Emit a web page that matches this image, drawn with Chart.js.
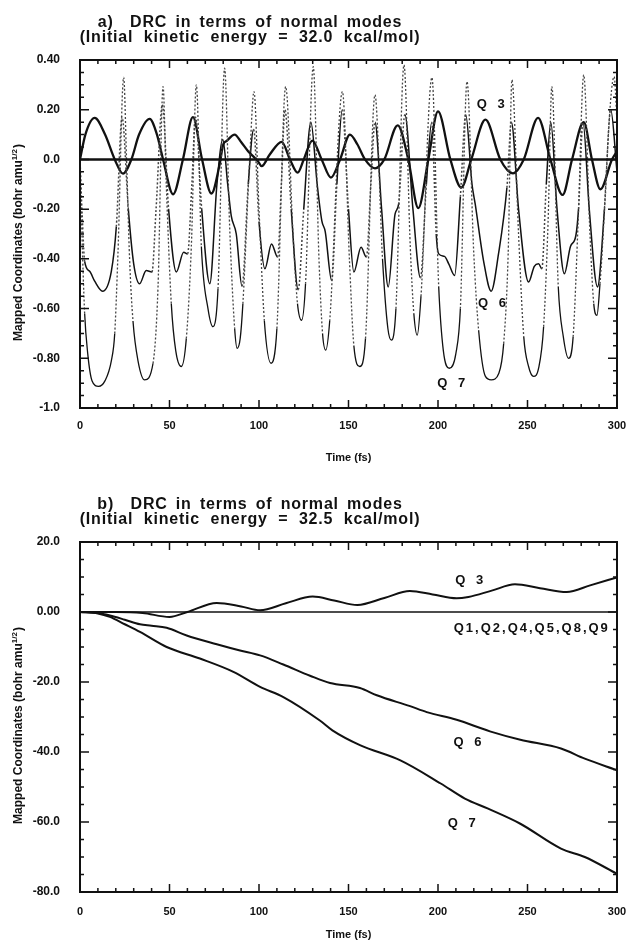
<!DOCTYPE html>
<html>
<head>
<meta charset="utf-8">
<script src="https://cdn.jsdelivr.net/npm/chart.js@4.4.1/dist/chart.umd.min.js"></script>
<style>
  html, body { margin: 0; padding: 0; background: #fff; }
  #page { position: relative; width: 630px; height: 941px; }
  .box { position: absolute; left: 0; width: 630px; }
</style>
</head>
<body>
<div id="page">
  <div class="box" style="top:0;height:470px"><canvas id="chart-a"></canvas></div>
  <div class="box" style="top:470px;height:471px"><canvas id="chart-b"></canvas></div>
</div>
<script>
// ---- data: [time (fs), mapped coordinate] ----
const titleA = ['a)  DRC in terms of normal modes', '(Initial  kinetic  energy  =  32.0  kcal/mol)'];
const titleB = ['b)  DRC in terms of normal modes', '(Initial  kinetic  energy  =  32.5  kcal/mol)'];
const xTickLabels = ['0', '50', '100', '150', '200', '250', '300'];
const yTickLabelsA = ['-1.0', '-0.80', '-0.60', '-0.40', '-0.20', '0.0', '0.20', '0.40'];
const yTickLabelsB = ['-80.0', '-60.0', '-40.0', '-20.0', '0.00', '20.0'];
const xTitle = 'Time (fs)';
const yTitle = ['Mapped Coordinates (bohr amu', '1/2', ')'];

// panel a) 32.0 kcal/mol
const q3A = [[0,0],[3,0.10],[8.2,0.167],[14,0.10],[19.4,0],[24,-0.057],[28.7,0],[33,0.10],[38.9,0.163],[43,0.10],
  [46.4,0],[52,-0.14],[57.5,0],[63.1,0.17],[68.2,0],[73.4,-0.137],[78,-0.02],[80,0.06],[82,0.075],[86.4,0.10],
  [90,0.07],[93.9,0.033],[99.4,-0.007],[101.5,-0.027],[106,0.02],[112.7,0.071],[117.3,0],[121.6,-0.053],[125,0],
  [129.8,0.076],[135,0],[140.2,-0.073],[145.3,0],[150.8,0.10],[155,0.06],[159.2,0],[164.8,-0.036],[170,0],
  [177.5,0.137],[183.4,0],[189,-0.196],[194.6,0],[200,0.193],[206.9,0],[213,-0.113],[218.6,0],[226.5,0.16],
  [234.8,0],[241.9,-0.056],[247.9,0],[255.9,0.167],[262.8,0],[269.6,-0.143],[274.9,0],[281.4,0.15],[286,0],
  [290.7,-0.12],[297.2,0],[300,0.033]];
const q6A = [[0,0],[1.2,-0.22],[2.6,-0.41],[5.4,-0.45],[8.2,-0.49],[12.6,-0.53],[17.5,-0.45],[20.3,-0.27],[23.5,0.17],
  [27,-0.2],[30,-0.42],[33.3,-0.50],[37,-0.447],[40.2,-0.453],[42.5,-0.2],[46,0.22],[49.5,-0.2],[53.8,-0.453],
  [57.9,-0.373],[60.1,-0.38],[62.5,-0.1],[64.5,0.17],[68,-0.2],[72.5,-0.50],[76.5,-0.1],[79.8,0.08],[82.5,-0.1],
  [84.5,-0.227],[87.3,-0.30],[90.5,-0.51],[94,-0.1],[97,0.12],[100,-0.25],[103.3,-0.44],[107,-0.34],[110.4,-0.393],
  [112.5,-0.1],[114.5,0.2],[118,-0.2],[121.9,-0.524],[125,-0.2],[129,0.15],[132.5,-0.1],[135.1,-0.247],[137,-0.29],
  [140.6,-0.487],[143.5,-0.1],[146.5,0.2],[150,-0.2],[153,-0.453],[157,-0.353],[160,-0.393],[162.5,-0.1],[164.8,0.15],
  [168.5,-0.2],[172.2,-0.513],[176,-0.22],[178,-0.18],[181.5,0.18],[186,-0.2],[190.2,-0.476],[193.5,-0.1],[196.5,0.15],
  [199,-0.30],[200.4,-0.38],[203.6,-0.39],[206,-0.42],[209.3,-0.467],[212.5,-0.15],[215.5,0.18],[219,-0.1],
  [220.8,-0.18],[225.5,-0.41],[229.7,-0.53],[233.8,-0.38],[238.5,-0.113],[241,0.15],[245,-0.2],[250.6,-0.493],
  [253.8,-0.43],[256.2,-0.42],[258,-0.44],[260.5,-0.1],[263,0.15],[266.5,-0.2],[270.6,-0.46],[274,-0.35],
  [277,-0.307],[278.5,-0.2],[281,0.15],[284.5,-0.2],[289.1,-0.513],[293,-0.2],[296.5,0.2],[300,-0.05]];
const q7A = [[0,0],[1,-0.28],[2.6,-0.62],[4.3,-0.78],[6.7,-0.89],[10.4,-0.913],[14,-0.89],[17.5,-0.81],[19.4,-0.70],
  [21.2,-0.38],[24.4,0.33],[26,0],[27.7,-0.40],[29.6,-0.65],[32.4,-0.81],[36.1,-0.887],[40.8,-0.82],[43.6,-0.51],
  [46.4,0.293],[48.2,-0.10],[51,-0.58],[53.5,-0.77],[56.6,-0.833],[59.4,-0.72],[62.2,-0.35],[65,0.30],[67.8,-0.35],
  [71.5,-0.6],[74.3,-0.673],[77.1,-0.52],[80.8,0.367],[83.6,-0.27],[86.4,-0.68],[87.8,-0.76],[89.5,-0.72],[91,-0.58],
  [94.8,0],[97.2,0.273],[100,-0.2],[103,-0.65],[106.7,-0.82],[110,-0.68],[114.9,0.293],[119,-0.3],[121.5,-0.58],
  [123.8,-0.647],[126,-0.5],[130.3,0.373],[133.5,-0.4],[135.5,-0.7],[137.3,-0.767],[139.5,-0.65],[146.6,0.273],
  [150.5,-0.4],[153,-0.75],[156.3,-0.833],[159.5,-0.72],[164.8,0.26],[169,-0.4],[172,-0.68],[174,-0.727],
  [176.5,-0.6],[181,0.38],[184.5,-0.35],[186.5,-0.62],[188.4,-0.707],[190.5,-0.55],[196.6,0.33],[200.4,-0.513],
  [203,-0.77],[206.3,-0.84],[210,-0.78],[212.5,-0.6],[216.2,0.313],[220,-0.38],[222.7,-0.687],[226.5,-0.873],
  [229.7,-0.887],[234,-0.86],[236.7,-0.74],[239.2,-0.38],[241.3,0.32],[245,-0.3],[247.9,-0.713],[250.6,-0.833],
  [253.4,-0.873],[256.2,-0.84],[259,-0.673],[261.5,-0.25],[263.6,0.293],[267.2,-0.513],[270,-0.713],[272.9,-0.80],
  [275.5,-0.713],[278.3,-0.247],[281.4,0.34],[284.9,-0.3],[287,-0.58],[288.8,-0.627],[290.5,-0.5],[298.4,0.333],
  [300,0.15]];
const restA = [[0,0],[300,0]];

// panel b) 32.5 kcal/mol
const q3B = [[0,0],[20,0],[35,-0.3],[50,-1.4],[60,0],[76.4,2.6],[90,1.6],[100.6,0.5],[115,2.5],[130,4.4],[142,3.3],
  [155,2.0],[170,4.0],[184.3,6.0],[197,5.0],[210.4,3.9],[217,4.3],[230,6.1],[243,7.9],[257,6.8],[271.9,5.7],
  [285,7.6],[300,9.9]];
const q6B = [[0,0],[10,-0.3],[16.7,-1.0],[25,-2.2],[33.5,-3.5],[40,-3.9],[48.4,-4.5],[59.6,-6.7],[76.4,-9.2],
  [89.4,-11.0],[100.6,-12.4],[113.6,-15.0],[128.5,-18.2],[139.7,-20.3],[156.4,-21.7],[165.8,-23.8],[184.4,-26.9],
  [193.7,-28.6],[210.4,-30.8],[229,-34.1],[246,-36.5],[268.7,-39.0],[282,-41.9],[300,-45.2]];
const q7B = [[0,0],[10,-0.4],[16.7,-1.4],[25,-3.5],[33.5,-5.7],[48.4,-10.0],[67,-13.3],[85.7,-17.1],[100.6,-21.4],
  [113.6,-24.3],[134,-31.0],[141,-33.8],[156.7,-38.1],[179,-42.4],[201.5,-49.0],[215,-53.3],[228,-56.2],
  [246,-60.5],[268.7,-67.6],[282,-70.0],[300,-74.8]];
const restB = [[0,0],[300,0]];

const INK = '#111';
const FONT = "'Liberation Sans', Arial, sans-serif";
const bold = (px) => `bold ${px}px ${FONT}`;
const pts = (arr) => arr.map(([x, y]) => ({ x, y }));

// thin fast-moving traces print as dotted strokes where they are steep
const isSteep = (c) => Math.abs(c.p1.y - c.p0.y) / Math.max(Math.abs(c.p1.x - c.p0.x), 0.01) > 14;
const steepDash = {
  borderDash: (c) => (isSteep(c) ? [2, 2] : undefined),
  borderColor: (c) => (isSteep(c) ? '#444' : undefined),
};

function text(ctx, str, x, y, size, align, spacing, words) {
  ctx.font = bold(size);
  ctx.textAlign = align;
  ctx.textBaseline = 'middle';
  ctx.letterSpacing = spacing || '0px';
  ctx.wordSpacing = words || '0px';
  ctx.fillText(str, x, y);
  ctx.letterSpacing = '0px';
  ctx.wordSpacing = '0px';
}

const decor = {
  id: 'decor',
  afterDatasetsDraw(chart, args, o) {
    const { ctx, chartArea: a, scales: { x, y } } = chart;
    ctx.save();
    ctx.strokeStyle = INK;
    ctx.fillStyle = INK;

    // frame
    ctx.lineWidth = 2;
    ctx.strokeRect(a.left, a.top, a.right - a.left, a.bottom - a.top);

    // inward tick marks on all four sides
    ctx.lineWidth = 1.5;
    ctx.beginPath();
    for (let t = x.min; t <= x.max + 1e-9; t += o.xMinor) {
      const px = x.getPixelForValue(t);
      const len = Math.abs(t / o.xMajor - Math.round(t / o.xMajor)) < 1e-6 ? 8 : 4;
      ctx.moveTo(px, a.bottom); ctx.lineTo(px, a.bottom - len);
      ctx.moveTo(px, a.top); ctx.lineTo(px, a.top + len);
    }
    const nY = Math.round((y.max - y.min) / o.yMinor);
    for (let i = 0; i <= nY; i++) {
      const py = y.getPixelForValue(y.min + i * o.yMinor);
      const len = i % o.yPerMajor === 0 ? 9 : 4;
      ctx.moveTo(a.left, py); ctx.lineTo(a.left + len, py);
      ctx.moveTo(a.right, py); ctx.lineTo(a.right - len, py);
    }
    ctx.stroke();

    // two-line heading
    text(ctx, o.title[0], o.titleX, o.titleY, 16, 'center', '0.8px', '3px');
    text(ctx, o.title[1], o.titleX, o.titleY + 15, 16, 'center', '0.8px', '0px');

    // axis titles
    text(ctx, xTitle, (a.left + a.right) / 2, o.xTitleY, 11, 'center');
    ctx.save();
    ctx.translate(19, (a.top + a.bottom) / 2 + 9);
    ctx.rotate(-Math.PI / 2);
    ctx.font = bold(12);
    const w1 = ctx.measureText(yTitle[0]).width;
    const w3 = ctx.measureText(yTitle[2]).width;
    ctx.font = bold(8);
    const w2 = ctx.measureText(yTitle[1]).width;
    const x0 = -(w1 + w2 + w3) / 2;
    text(ctx, yTitle[0], x0, 0, 12, 'left');
    text(ctx, yTitle[1], x0 + w1, -4, 8, 'left');
    text(ctx, yTitle[2], x0 + w1 + w2 + 1, 0, 12, 'left');
    ctx.restore();

    // curve labels
    for (const l of o.labels) {
      text(ctx, l.text, x.getPixelForValue(l.t), y.getPixelForValue(l.v), 13, l.align || 'center', '2px', '3px');
    }
    ctx.restore();
  }
};

function makeChart(id, series, cfg) {
  return new Chart(document.getElementById(id), {
    type: 'line',
    data: { datasets: series },
    options: {
      responsive: true,
      maintainAspectRatio: false,
      animation: false,
      events: [],
      layout: { padding: { top: cfg.top, right: 13, left: 0, bottom: 0 } },
      elements: { point: { radius: 0 }, line: { cubicInterpolationMode: 'monotone', borderColor: INK } },
      plugins: { legend: { display: false }, tooltip: { enabled: false }, decor: cfg.decor },
      scales: {
        x: {
          type: 'linear', min: 0, max: 300,
          grid: { display: false }, border: { display: false },
          ticks: {
            stepSize: 50, autoSkip: false, maxRotation: 0, padding: cfg.xPad, color: INK,
            font: { family: FONT, size: 11, weight: 'bold' },
            callback: (v, i) => xTickLabels[i],
          },
          afterFit: (s) => { s.height = cfg.xHeight; s.paddingLeft = 0; s.paddingRight = 0; },
        },
        y: {
          type: 'linear', min: cfg.yMin, max: cfg.yMax,
          grid: { display: false }, border: { display: false },
          ticks: {
            stepSize: cfg.yStep, autoSkip: false, padding: 12, color: INK,
            font: { family: FONT, size: 12, weight: 'bold' },
            callback: (v, i) => cfg.yLabels[i],
          },
          afterFit: (s) => { s.width = 80; s.paddingTop = 0; s.paddingBottom = 0; },
        },
      },
    },
    plugins: [decor],
  });
}

makeChart('chart-a', [
  { label: 'Q1,Q2,Q4,Q5,Q8,Q9', data: pts(restA), borderWidth: 2.5 },
  { label: 'Q 7', data: pts(q7A), borderWidth: 1.3, segment: steepDash },
  { label: 'Q 6', data: pts(q6A), borderWidth: 1.5, segment: steepDash },
  { label: 'Q 3', data: pts(q3A), borderWidth: 2.3 },
], {
  top: 60, xHeight: 62, xPad: 3, yMin: -1, yMax: 0.4, yStep: 0.2, yLabels: yTickLabelsA,
  decor: {
    title: titleA, titleX: 250, titleY: 23, xTitleY: 458,
    xMinor: 10, xMajor: 50, yMinor: 0.05, yPerMajor: 4,
    labels: [
      { text: 'Q 3', t: 230, v: 0.22 },
      { text: 'Q 6', t: 230.7, v: -0.58 },
      { text: 'Q 7', t: 208, v: -0.90 },
    ],
  },
});

makeChart('chart-b', [
  { label: 'Q1,Q2,Q4,Q5,Q8,Q9', data: pts(restB), borderWidth: 1.6 },
  { label: 'Q 7', data: pts(q7B), borderWidth: 2 },
  { label: 'Q 6', data: pts(q6B), borderWidth: 2 },
  { label: 'Q 3', data: pts(q3B), borderWidth: 2 },
], {
  top: 72, xHeight: 49, xPad: 5, yMin: -80, yMax: 20, yStep: 20, yLabels: yTickLabelsB,
  decor: {
    title: titleB, titleX: 250, titleY: 35, xTitleY: 465,
    xMinor: 10, xMajor: 50, yMinor: 5, yPerMajor: 4,
    labels: [
      { text: 'Q 3', t: 218, v: 8.9 },
      { text: 'Q1,Q2,Q4,Q5,Q8,Q9', t: 296, v: -4.8, align: 'right' },
      { text: 'Q 6', t: 217, v: -37.4 },
      { text: 'Q 7', t: 213.8, v: -60.3 },
    ],
  },
});
</script>
</body>
</html>
